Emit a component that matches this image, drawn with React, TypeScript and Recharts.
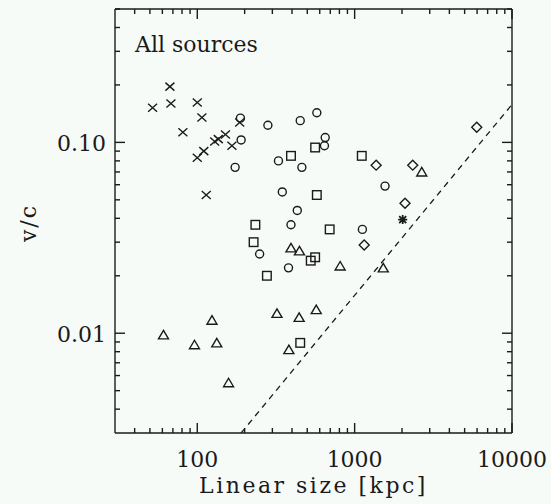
import { Legend, ReferenceLine, Scatter, ScatterChart, XAxis, YAxis } from 'recharts'

const FONT = '"DejaVu Serif", serif'
const INK = '#1a1a1a'
const BG = '#f7fbf8'

const W = 551
const H = 504
const MARGIN = { top: 9, right: 39, bottom: 0, left: 0 }
const Y_AXIS_W = 115
const X_AXIS_H = 71
const PLOT_W = W - MARGIN.left - MARGIN.right - Y_AXIS_W
const PLOT_H = H - MARGIN.top - MARGIN.bottom - X_AXIS_H

// [linear size (kpc), v/c] per source class
const crosses: [number, number][] = [
  [52, 0.152], [67, 0.196], [68, 0.16], [100, 0.162], [107, 0.135], [81, 0.113], [100, 0.083],
  [110, 0.09], [129, 0.101], [136, 0.104], [151, 0.11], [166, 0.096], [186, 0.127], [114, 0.053],
]
const circles: [number, number][] = [
  [188, 0.134], [190, 0.103], [174, 0.074], [281, 0.123], [451, 0.13], [575, 0.143], [650, 0.106],
  [643, 0.096], [328, 0.08], [462, 0.074], [347, 0.055], [432, 0.044], [394, 0.037], [249, 0.026],
  [380, 0.022], [1560, 0.059], [1120, 0.035],
]
const squares: [number, number][] = [
  [394, 0.085], [561, 0.094], [1110, 0.085], [575, 0.053], [234, 0.037], [228, 0.03], [694, 0.035],
  [277, 0.02], [526, 0.024], [561, 0.025], [451, 0.0089],
]
const triangles: [number, number][] = [
  [61, 0.0098], [96, 0.0087], [124, 0.0117], [133, 0.0089], [158, 0.0055], [394, 0.028], [446, 0.027],
  [321, 0.0127], [444, 0.0121], [570, 0.0133], [382, 0.0082], [809, 0.0225], [1520, 0.022], [2670, 0.07],
]
const diamonds: [number, number][] = [[1370, 0.076], [2340, 0.076], [2090, 0.048], [5970, 0.12], [1150, 0.029]]
const stars: [number, number][] = [[2020, 0.0394]]
// dashed limit line, slope 1 in log-log
const limitLine: [number, number][] = [[190, 0.003], [10000, 0.158]]

const X_DOMAIN = [30, 10000]
const Y_DOMAIN = [0.003, 0.5]
const X_TICKS = [40, 50, 60, 70, 80, 90, 100, 200, 300, 400, 500, 600, 700, 800, 900, 1000,
  2000, 3000, 4000, 5000, 6000, 7000, 8000, 9000, 10000]
const X_LABELS = [100, 1000, 10000]
const Y_TICKS = [0.004, 0.005, 0.006, 0.007, 0.008, 0.009, 0.01, 0.02, 0.03, 0.04, 0.05, 0.06, 0.07,
  0.08, 0.09, 0.1, 0.2, 0.3, 0.4, 0.5]
const Y_LABELS = [0.01, 0.1]

const toPts = (arr: [number, number][]) => arr.map(([x, y]) => ({ x, y }))

const mark = { fill: 'none', stroke: INK, strokeWidth: 1.4 }

function XMark({ cx, cy }: any) {
  const a = 4.5, b = 4
  return <path d={`M${cx - a},${cy - b}L${cx + a},${cy + b}M${cx - a},${cy + b}L${cx + a},${cy - b}`} {...mark} />
}
function CircleMark({ cx, cy }: any) {
  return <circle cx={cx} cy={cy} r={4} {...mark} />
}
function SquareMark({ cx, cy }: any) {
  return <rect x={cx - 4.3} y={cy - 4.3} width={8.6} height={8.6} {...mark} />
}
function TriangleMark({ cx, cy }: any) {
  return <path d={`M${cx},${cy - 4.5}L${cx + 5},${cy + 4}L${cx - 5},${cy + 4}Z`} {...mark} />
}
function DiamondMark({ cx, cy }: any) {
  return <path d={`M${cx},${cy - 5}L${cx + 5},${cy}L${cx},${cy + 5}L${cx - 5},${cy}Z`} {...mark} />
}
function StarMark({ cx, cy }: any) {
  const r = 4.5
  return (
    <path
      d={`M${cx - r},${cy}L${cx + r},${cy}M${cx},${cy - r}L${cx},${cy + r}M${cx - 3.5},${cy - 3.5}L${cx + 3.5},${cy + 3.5}M${cx - 3.5},${cy + 3.5}L${cx + 3.5},${cy - 3.5}`}
      {...mark}
      strokeWidth={1.8}
    />
  )
}

function XTick({ x, y, payload }: any) {
  const major = X_LABELS.includes(payload.value)
  const len = major ? 10 : 5
  return (
    <g>
      <line x1={x} x2={x} y1={y} y2={y - len} stroke={INK} strokeWidth={1.4} />
      <line x1={x} x2={x} y1={y - PLOT_H} y2={y - PLOT_H + len} stroke={INK} strokeWidth={1.4} />
      {major && (
        <text x={x} y={y + 34} textAnchor="middle" fill={INK} fontSize={22} fontFamily={FONT}>
          {payload.value}
        </text>
      )}
    </g>
  )
}

function YTick({ x, y, payload }: any) {
  const major = Y_LABELS.includes(payload.value)
  const len = major ? 10 : 5
  return (
    <g>
      <line x1={x} x2={x + len} y1={y} y2={y} stroke={INK} strokeWidth={1.4} />
      <line x1={x + PLOT_W} x2={x + PLOT_W - len} y1={y} y2={y} stroke={INK} strokeWidth={1.4} />
      {major && (
        <text x={x - 9} y={y + 9} textAnchor="end" fill={INK} fontSize={22} fontFamily={FONT}>
          {payload.value.toFixed(2)}
        </text>
      )}
    </g>
  )
}

function XTitle({ viewBox }: any) {
  return (
    <text x={viewBox.x + viewBox.width / 2} y={viewBox.y + 60} textAnchor="middle" fill={INK}
      fontSize={22} fontFamily={FONT} letterSpacing={2.5}>
      Linear size [kpc]
    </text>
  )
}

function YTitle({ viewBox }: any) {
  const cx = viewBox.x + 36
  const cy = viewBox.y + viewBox.height / 2 + 2
  return (
    <text x={cx} y={cy} transform={`rotate(-90 ${cx} ${cy})`} textAnchor="middle" fill={INK}
      fontSize={22} fontFamily={FONT} letterSpacing={2}>
      v/c
    </text>
  )
}

export default function App() {
  return (
    <div style={{ position: 'absolute', left: 0, top: 0, width: W, height: H, background: BG }}>
      <ScatterChart width={W} height={H} margin={MARGIN}>
        <XAxis
          type="number" dataKey="x" scale="log" domain={X_DOMAIN} allowDataOverflow
          ticks={X_TICKS} interval={0} height={X_AXIS_H}
          tickLine={false} tickSize={0} tickMargin={0} tick={(p: any) => <XTick {...p} />}
          axisLine={{ stroke: INK, strokeWidth: 1.4 }}
          label={{ content: (p: any) => <XTitle {...p} /> }}
        />
        <YAxis
          type="number" dataKey="y" scale="log" domain={Y_DOMAIN} allowDataOverflow
          ticks={Y_TICKS} interval={0} width={Y_AXIS_W}
          tickLine={false} tickSize={0} tickMargin={0} tick={(p: any) => <YTick {...p} />}
          axisLine={{ stroke: INK, strokeWidth: 1.4 }}
          label={{ content: (p: any) => <YTitle {...p} /> }}
        />
        <ReferenceLine y={Y_DOMAIN[1]} stroke={INK} strokeWidth={1.4} />
        <ReferenceLine x={X_DOMAIN[1]} stroke={INK} strokeWidth={1.4} />
        <Legend
          layout="vertical" align="center" verticalAlign="middle"
          wrapperStyle={{ left: 135, top: 34, width: 'auto' }}
          content={() => (
            <div style={{ fontFamily: FONT, fontSize: 22, lineHeight: 1, color: INK }}>All sources</div>
          )}
        />
        <Scatter data={toPts(limitLine)} line={{ stroke: INK, strokeWidth: 1.3, strokeDasharray: '6 5' }}
          shape={() => <g />} isAnimationActive={false} legendType="none" />
        <Scatter data={toPts(crosses)} shape={(p: any) => <XMark {...p} />} isAnimationActive={false} />
        <Scatter data={toPts(circles)} shape={(p: any) => <CircleMark {...p} />} isAnimationActive={false} />
        <Scatter data={toPts(squares)} shape={(p: any) => <SquareMark {...p} />} isAnimationActive={false} />
        <Scatter data={toPts(triangles)} shape={(p: any) => <TriangleMark {...p} />} isAnimationActive={false} />
        <Scatter data={toPts(diamonds)} shape={(p: any) => <DiamondMark {...p} />} isAnimationActive={false} />
        <Scatter data={toPts(stars)} shape={(p: any) => <StarMark {...p} />} isAnimationActive={false} />
      </ScatterChart>
    </div>
  )
}
